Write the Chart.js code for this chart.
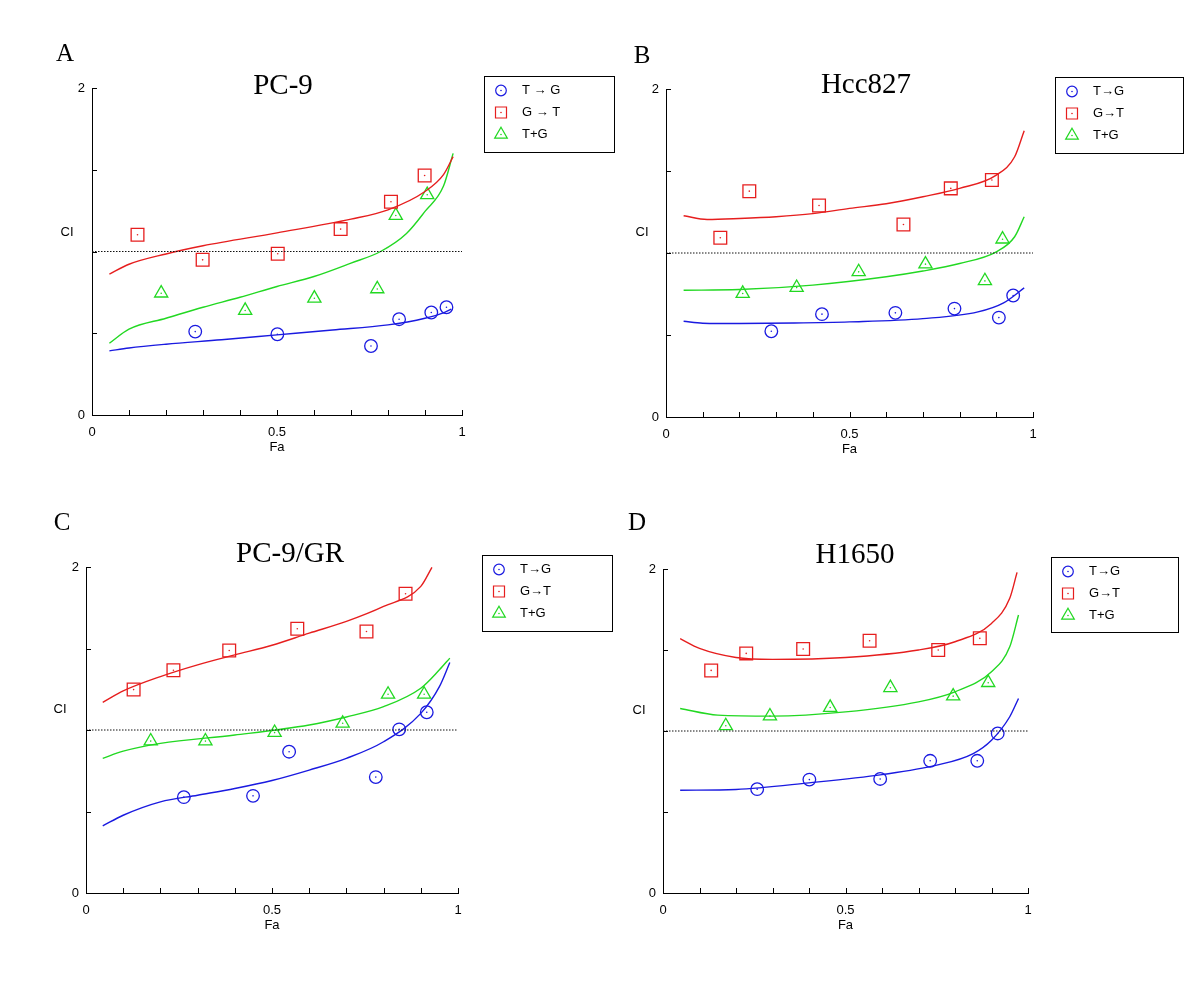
<!DOCTYPE html>
<html lang="en">
<head>
<meta charset="utf-8">
<title>CI vs Fa</title>
<script src="https://cdn.jsdelivr.net/npm/chart.js@4.4.0/dist/chart.umd.min.js"></script>
<style>
  body { margin: 0; background: #fff; }
  .stage { position: relative; width: 1200px; height: 986px; }
  .stage canvas { position: absolute; left: 0; top: 0; }
</style>
</head>
<body>
<div class="stage">
  <canvas id="chartA" width="1200" height="986"></canvas>
  <canvas id="chartB" width="1200" height="986"></canvas>
  <canvas id="chartC" width="1200" height="986"></canvas>
  <canvas id="chartD" width="1200" height="986"></canvas>
</div>
<script>
// tick labels shown on the axes
const faTickLabels = [0, 0.5, 1];
const ciTickLabels = [0, 2];
const ciReference = [[0, 1], [1, 1]];

// A - PC-9, measured points [Fa, CI]
const pc9_TG  = [[0.279,0.510],[0.501,0.494],[0.754,0.422],[0.830,0.586],[0.917,0.627],[0.958,0.659]];
const pc9_GT  = [[0.123,1.102],[0.299,0.949],[0.502,0.986],[0.672,1.137],[0.808,1.304],[0.899,1.465]];
const pc9_TpG = [[0.187,0.745],[0.414,0.639],[0.601,0.714],[0.771,0.771],[0.821,1.220],[0.906,1.347]];
// A - fitted curves
const pc9_TG_fit  = [[0.047,0.392],[0.1,0.41],[0.2,0.433],[0.35,0.46],[0.5,0.49],[0.65,0.52],[0.8,0.551],[0.9,0.592],[0.95,0.625],[0.971,0.647]];
const pc9_GT_fit  = [[0.047,0.861],[0.1,0.922],[0.2,0.985],[0.3,1.035],[0.5,1.114],[0.7,1.198],[0.8,1.255],[0.9,1.367],[0.95,1.47],[0.976,1.58]];
const pc9_TpG_fit = [[0.047,0.439],[0.1,0.525],[0.2,0.592],[0.3,0.659],[0.4,0.72],[0.5,0.786],[0.6,0.847],[0.7,0.929],[0.78,1.0],[0.85,1.11],[0.9,1.245],[0.95,1.40],[0.976,1.60]];

// B - Hcc827
const hcc_TG  = [[0.287,0.523],[0.425,0.627],[0.625,0.635],[0.786,0.661],[0.907,0.606],[0.946,0.741]];
const hcc_GT  = [[0.148,1.093],[0.227,1.377],[0.417,1.290],[0.647,1.174],[0.776,1.394],[0.888,1.445]];
const hcc_TpG = [[0.209,0.753],[0.356,0.789],[0.525,0.885],[0.707,0.932],[0.869,0.830],[0.917,1.084]];
const hcc_TG_fit  = [[0.048,0.584],[0.1,0.572],[0.2,0.570],[0.35,0.573],[0.5,0.580],[0.7,0.600],[0.85,0.641],[0.92,0.696],[0.976,0.787]];
const hcc_GT_fit  = [[0.048,1.227],[0.112,1.204],[0.2,1.21],[0.3,1.221],[0.4,1.24],[0.5,1.272],[0.6,1.30],[0.7,1.343],[0.8,1.394],[0.9,1.475],[0.95,1.587],[0.976,1.746]];
const hcc_TpG_fit = [[0.048,0.773],[0.2,0.777],[0.4,0.804],[0.6,0.855],[0.7,0.89],[0.8,0.936],[0.9,1.007],[0.95,1.099],[0.976,1.221]];

// C - PC-9/GR
const gr_TG  = [[0.263,0.588],[0.449,0.596],[0.546,0.867],[0.779,0.711],[0.842,1.004],[0.916,1.109]];
const gr_GT  = [[0.128,1.248],[0.235,1.367],[0.385,1.488],[0.568,1.621],[0.754,1.604],[0.859,1.836]];
const gr_TpG = [[0.174,0.932],[0.321,0.932],[0.507,0.984],[0.690,1.041],[0.812,1.219],[0.909,1.219]];
const gr_TG_fit  = [[0.045,0.412],[0.1,0.477],[0.2,0.559],[0.3,0.60],[0.4,0.641],[0.5,0.69],[0.6,0.754],[0.7,0.826],[0.8,0.928],[0.9,1.102],[0.95,1.266],[0.978,1.414]];
const gr_GT_fit  = [[0.045,1.170],[0.1,1.24],[0.2,1.328],[0.3,1.40],[0.4,1.461],[0.5,1.52],[0.6,1.594],[0.7,1.666],[0.8,1.758],[0.9,1.881],[0.93,1.998]];
const gr_TpG_fit = [[0.045,0.826],[0.1,0.87],[0.2,0.918],[0.4,0.969],[0.6,1.031],[0.7,1.08],[0.8,1.143],[0.9,1.256],[0.95,1.369],[0.978,1.441]];

// D - H1650
const h1650_TG  = [[0.258,0.641],[0.401,0.700],[0.595,0.704],[0.732,0.816],[0.861,0.816],[0.917,0.985]];
const h1650_GT  = [[0.132,1.374],[0.228,1.479],[0.384,1.506],[0.566,1.557],[0.754,1.500],[0.868,1.572]];
const h1650_TpG = [[0.172,1.032],[0.293,1.092],[0.458,1.145],[0.623,1.267],[0.795,1.215],[0.891,1.298]];
const h1650_TG_fit  = [[0.047,0.634],[0.2,0.639],[0.4,0.68],[0.6,0.731],[0.75,0.789],[0.85,0.861],[0.9,0.943],[0.95,1.088],[0.974,1.201]];
const h1650_GT_fit  = [[0.047,1.570],[0.1,1.51],[0.2,1.454],[0.3,1.442],[0.5,1.454],[0.7,1.50],[0.8,1.551],[0.9,1.664],[0.95,1.819],[0.97,1.979]];
const h1650_TpG_fit = [[0.047,1.139],[0.15,1.098],[0.3,1.092],[0.5,1.118],[0.7,1.18],[0.8,1.242],[0.9,1.366],[0.95,1.52],[0.974,1.716]];

const colors = ['#1a1ae0', '#e61e1e', '#22d822'];
const styles = ['circle', 'rect', 'triangle'];
const radii  = [6.3, 9, 7.6];

const panels = [
  { id: 'chartA', letter: 'A', title: 'PC-9', names: ['T \u2192 G', 'G \u2192 T', 'T+G'],
    pts: [pc9_TG, pc9_GT, pc9_TpG], fits: [pc9_TG_fit, pc9_GT_fit, pc9_TpG_fit],
    box: { l: 92, t: 88, r: 462, b: 415 }, letterAt: [65, 54], titleAt: [283, 86], ciAt: [67, 232],
    legend: { x: 484, y: 76, w: 130, h: 76 } },
  { id: 'chartB', letter: 'B', title: 'Hcc827', names: ['T\u2192G', 'G\u2192T', 'T+G'],
    pts: [hcc_TG, hcc_GT, hcc_TpG], fits: [hcc_TG_fit, hcc_GT_fit, hcc_TpG_fit],
    box: { l: 666, t: 89, r: 1033, b: 417 }, letterAt: [642, 56], titleAt: [866, 85], ciAt: [642, 232],
    legend: { x: 1055, y: 77, w: 128, h: 76 } },
  { id: 'chartC', letter: 'C', title: 'PC-9/GR', names: ['T\u2192G', 'G\u2192T', 'T+G'],
    pts: [gr_TG, gr_GT, gr_TpG], fits: [gr_TG_fit, gr_GT_fit, gr_TpG_fit],
    box: { l: 86, t: 567, r: 458, b: 893 }, letterAt: [62, 523], titleAt: [290, 554], ciAt: [60, 709],
    legend: { x: 482, y: 555, w: 130, h: 76 } },
  { id: 'chartD', letter: 'D', title: 'H1650', names: ['T\u2192G', 'G\u2192T', 'T+G'],
    pts: [h1650_TG, h1650_GT, h1650_TpG], fits: [h1650_TG_fit, h1650_GT_fit, h1650_TpG_fit],
    box: { l: 663, t: 569, r: 1028, b: 893 }, letterAt: [637, 523], titleAt: [855, 555], ciAt: [639, 710],
    legend: { x: 1051, y: 557, w: 127, h: 75 } }
];

const toXY = arr => arr.map(p => ({ x: p[0], y: p[1] }));
const near = (list, v) => list.some(t => Math.abs(t - v) < 1e-6);

function legendMarker(ctx, i, cx, cy) {
  ctx.strokeStyle = colors[i];
  ctx.fillStyle = colors[i];
  ctx.lineWidth = 1.2;
  ctx.beginPath();
  if (styles[i] === 'circle') ctx.arc(cx, cy, 5.3, 0, Math.PI * 2);
  else if (styles[i] === 'rect') ctx.rect(cx - 5.5, cy - 5.5, 11, 11);
  else {
    const r = 7.3;
    ctx.moveTo(cx, cy - r);
    ctx.lineTo(cx + 0.866 * r, cy + r / 2);
    ctx.lineTo(cx - 0.866 * r, cy + r / 2);
    ctx.closePath();
  }
  ctx.stroke();
  ctx.beginPath();
  ctx.arc(cx, cy, 0.8, 0, Math.PI * 2);
  ctx.fill();
}

// inward ticks, panel letter, title, CI label and boxed legend
const decor = {
  id: 'decor',
  afterDraw(chart, args, o) {
    const ctx = chart.ctx;
    const xs = chart.scales.x, ys = chart.scales.y;
    ctx.save();
    ctx.strokeStyle = '#000';
    ctx.lineWidth = 1;
    ctx.beginPath();
    xs.ticks.forEach(t => {
      const px = Math.round(xs.getPixelForValue(t.value)) + 0.5;
      ctx.moveTo(px, xs.top);
      ctx.lineTo(px, xs.top - 5);
    });
    ys.ticks.forEach(t => {
      const py = Math.round(ys.getPixelForValue(t.value)) + 0.5;
      ctx.moveTo(ys.right, py);
      ctx.lineTo(ys.right + 5, py);
    });
    ctx.stroke();

    ctx.fillStyle = '#000';
    ctx.textAlign = 'center';
    ctx.textBaseline = 'middle';
    ctx.font = '25px "Liberation Serif"';
    ctx.fillText(o.letter, o.letterAt[0], o.letterAt[1]);
    ctx.font = '29px "Liberation Serif"';
    ctx.fillText(o.title, o.titleAt[0], o.titleAt[1]);
    ctx.font = '13px "Liberation Sans"';
    ctx.fillText('CI', o.ciAt[0], o.ciAt[1]);

    const lg = o.legend;
    ctx.lineWidth = 1;
    ctx.strokeStyle = '#000';
    ctx.strokeRect(lg.x + 0.5, lg.y + 0.5, lg.w, lg.h);
    ctx.textAlign = 'left';
    o.names.forEach((name, i) => {
      const cy = lg.y + 14.5 + i * 22;
      legendMarker(ctx, i, lg.x + 17, cy);
      ctx.fillStyle = '#000';
      ctx.font = '13px "Liberation Sans"';
      ctx.fillText(name, lg.x + 38, cy);
    });
    ctx.restore();
  }
};

panels.forEach(p => {
  const datasets = [{
    data: toXY(ciReference), showLine: true, pointRadius: 0,
    borderColor: '#111', borderWidth: 1, borderDash: [1.5, 1.5]
  }];
  p.fits.forEach((f, i) => datasets.push({
    data: toXY(f), showLine: true, pointRadius: 0,
    borderColor: colors[i], borderWidth: 1.4, tension: 0.4, cubicInterpolationMode: 'monotone'
  }));
  p.pts.forEach((s, i) => {
    datasets.push({
      data: toXY(s), showLine: false, pointStyle: styles[i], pointRadius: radii[i],
      pointBorderColor: colors[i], pointBackgroundColor: 'rgba(0,0,0,0)', pointBorderWidth: 1.3
    });
    datasets.push({
      data: toXY(s), showLine: false, pointStyle: 'circle', pointRadius: 0.8,
      pointBorderWidth: 0, pointBackgroundColor: colors[i]
    });
  });

  const tickFont = { family: '"Liberation Sans", Arial, sans-serif', size: 13 };
  new Chart(document.getElementById(p.id), {
    type: 'scatter',
    data: { datasets },
    options: {
      responsive: false,
      animation: false,
      events: [],
      layout: { padding: { left: p.box.l - 40, top: p.box.t, right: 1200 - p.box.r, bottom: 986 - p.box.b - 40 } },
      plugins: {
        legend: { display: false },
        tooltip: { enabled: false },
        decor: p
      },
      scales: {
        x: {
          type: 'linear', min: 0, max: 1,
          grid: { display: false, drawTicks: false },
          border: { display: true, color: '#000', width: 1 },
          ticks: {
            stepSize: 0.1, autoSkip: false, maxRotation: 0, padding: 10, color: '#000', font: tickFont,
            callback: v => near(faTickLabels, v) ? String(Math.round(v * 10) / 10) : ''
          },
          title: { display: true, text: 'Fa', color: '#000', font: tickFont, padding: { top: 0, bottom: 0 } },
          afterFit: s => { s.height = 40; }
        },
        y: {
          type: 'linear', min: 0, max: 2,
          grid: { display: false, drawTicks: false },
          border: { display: true, color: '#000', width: 1 },
          ticks: {
            stepSize: 0.5, autoSkip: false, padding: 7, color: '#000', font: tickFont,
            callback: v => near(ciTickLabels, v) ? String(v) : ''
          },
          afterFit: s => { s.width = 40; }
        }
      }
    },
    plugins: [decor]
  });
});
</script>
</body>
</html>
